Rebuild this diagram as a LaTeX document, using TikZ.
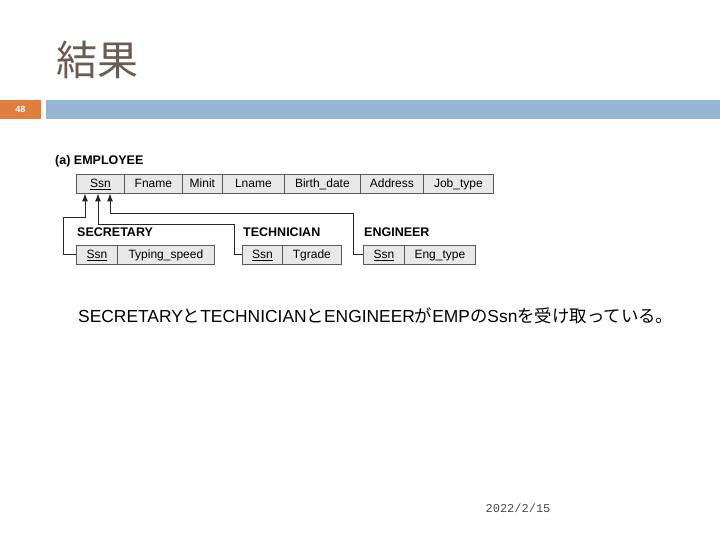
\documentclass[tikz,border=0pt]{standalone}
\usepackage{fontspec}
\setmainfont{Liberation Sans}
\newfontfamily\jp{Noto Sans CJK JP}
\newfontfamily\datefont{Liberation Mono}
\usetikzlibrary{arrows.meta}
\definecolor{titlec}{HTML}{6B5B55}
\definecolor{orangec}{HTML}{DF7E3D}
\definecolor{bluec}{HTML}{94B6D2}
\definecolor{cellfill}{HTML}{E8E8E8}
\definecolor{cellline}{HTML}{5A5A5A}
\definecolor{datec}{HTML}{4A4A4A}
\tikzset{
  cell/.style={draw=cellline, fill=cellfill, line width=0.8pt, anchor=west,
    minimum height=19pt, inner sep=0pt, text height=9pt, text depth=0.6pt,
    font=\fontsize{12}{14}\selectfont},
  lbl/.style={anchor=west, inner sep=0pt, font=\fontsize{12.5}{14}\selectfont\bfseries},
  link/.style={draw=black!85, line width=0.9pt, -{Latex[length=8pt,width=6pt]}},
}
\newcommand{\ul}[1]{\underline{#1}}
\begin{document}
\begin{tikzpicture}[x=1pt,y=-1pt]
\useasboundingbox (0,0) rectangle (720,540);
% header
\node[anchor=west, inner sep=0pt, text=titlec, font=\jp\fontsize{41}{44}\selectfont] (title) at (56,60) {結果};
\fill[orangec] (0,100) rectangle (41,119);
\node[text=white, font=\fontsize{9}{10}\selectfont\bfseries] (pnum) at (20.5,109.5) {48};
\fill[bluec] (46,100) rectangle (720,119);
% employee
\node[lbl] (emplbl) at (55,161) {(a) EMPLOYEE};
\node[cell, minimum width=48pt] (essn) at (76,183.5) {\ul{Ssn}};
\node[cell, minimum width=58pt] (efname) at (124,183.5) {Fname};
\node[cell, minimum width=40pt] (eminit) at (182,183.5) {Minit};
\node[cell, minimum width=62pt] (elname) at (222,183.5) {Lname};
\node[cell, minimum width=76pt] (ebd) at (284,183.5) {Birth\_date};
\node[cell, minimum width=63pt] (eaddr) at (360,183.5) {Address};
\node[cell, minimum width=70pt] (ejob) at (423,183.5) {Job\_type};
% secretary
\node[lbl] (seclbl) at (77,232) {SECRETARY};
\node[cell, minimum width=41pt] (sssn) at (76,254.5) {\ul{Ssn}};
\node[cell, minimum width=97pt] (styp) at (117,254.5) {Typing\_speed};
% technician
\node[lbl] (teclbl) at (243,232) {TECHNICIAN};
\node[cell, minimum width=40pt] (tssn) at (242,254.5) {\ul{Ssn}};
\node[cell, minimum width=59pt] (tgr) at (282,254.5) {Tgrade};
% engineer
\node[lbl] (englbl) at (364,232) {ENGINEER};
\node[cell, minimum width=41pt] (gssn) at (363,254.5) {\ul{Ssn}};
\node[cell, minimum width=71pt] (gtyp) at (404,254.5) {Eng\_type};
% connectors
\coordinate (a1) at (85,0);
\coordinate (a2) at (98,0);
\coordinate (a3) at (110,0);
\draw[link] (sssn.west) -- ++(-13,0) |- (85,217) -- (a1 |- essn.south);
\draw[link] (tssn.west) -- ++(-8,0) |- (98,224) -- (a2 |- essn.south);
\draw[link] (gssn.west) -- ++(-10,0) |- (110,213) -- (a3 |- essn.south);
% sentence
\node[anchor=west, inner sep=0pt, font=\fontsize{17.4}{20}\selectfont] (sent) at (78,316)
  {SECRETARY{\jp と}TECHNICIAN{\jp と}ENGINEER{\jp が}EMP{\jp の}Ssn{\jp を受け取っている。}};
% date
\node[text=datec, font=\datefont\fontsize{12}{13}\selectfont] (date) at (518,508) {2022/2/15};
\end{tikzpicture}
\end{document}
